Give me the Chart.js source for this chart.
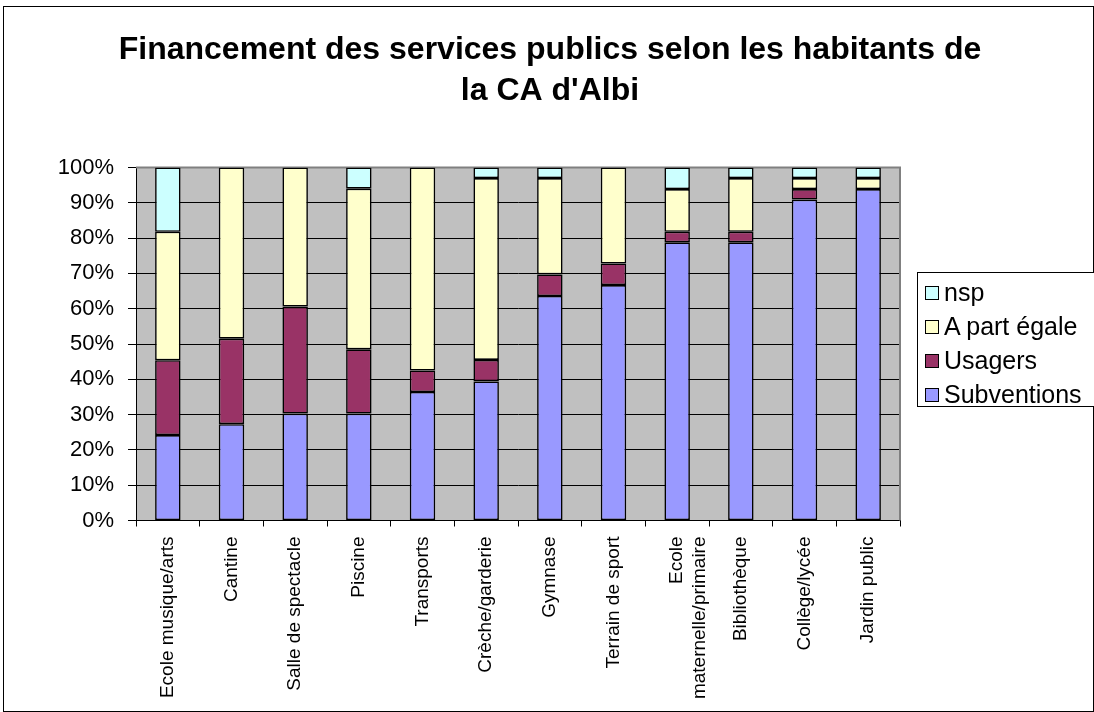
<!DOCTYPE html>
<html>
<head>
<meta charset="utf-8">
<script src="https://cdn.jsdelivr.net/npm/chart.js@4/dist/chart.umd.min.js"></script>
<style>
  body { margin: 0; background: #fff; overflow: hidden; }
  #wrap { position: relative; width: 1094px; height: 712px; overflow: hidden; }
  #legend {
    position: absolute; left: 917px; top: 272px; width: 200px; height: 135px;
    border: 1px solid #000; background: #fff; box-sizing: border-box;
    font-family: Arial, "Liberation Sans", sans-serif; font-size: 25px; color: #000;
  }
  #legend .item { position: absolute; left: 7px; height: 30px; line-height: 30px; white-space: nowrap; }
  #legend .sw { display: inline-block; width: 12px; height: 12px; border: 1px solid #000; margin-right: 5px; vertical-align: 1px; }
</style>
</head>
<body>
<div id="wrap">
  <canvas id="chart" width="1094" height="712"></canvas>
  <div id="legend"></div>
</div>
<script>
const titleLines = ['Financement des services publics selon les habitants de', "la CA d'Albi"];
const categories = ['Ecole musique/arts', 'Cantine', 'Salle de spectacle', 'Piscine', 'Transports',
  'Crèche/garderie', 'Gymnase', 'Terrain de sport', ['Ecole', 'maternelle/primaire'],
  'Bibliothèque', 'Collège/lycée', 'Jardin public'];
const subventions = [24.2, 27.3, 30.3, 30.3, 36.4, 39.4, 63.6, 66.7, 78.8, 78.8, 90.9, 93.9];
const usagers     = [21.2, 24.2, 30.3, 18.2, 6.1, 6.1, 6.1, 6.1, 3.0, 3.0, 3.0, 0];
const partEgale   = [36.4, 48.5, 39.4, 45.5, 57.5, 51.5, 27.3, 27.2, 12.1, 15.2, 3.1, 3.1];
const nsp         = [18.2, 0, 0, 6.0, 0, 3.0, 3.0, 0, 6.1, 3.0, 3.0, 3.0];
const yTicks = [0, 10, 20, 30, 40, 50, 60, 70, 80, 90, 100];

const FONT = 'Arial, "Liberation Sans", sans-serif';

function ds(label, data, color) {
  return {
    label, data, backgroundColor: color, borderColor: '#000',
    borderWidth: c => (c.raw ? 1.6 : 0), borderSkipped: false,
    barPercentage: 0.4, categoryPercentage: 1
  };
}

// grey plot background, grey frame on top/right, page title and outer frame
const plotFrame = {
  id: 'plotFrame',
  beforeDraw(chart) {
    const { ctx, chartArea: a } = chart;
    ctx.save();
    ctx.fillStyle = '#c0c0c0';
    ctx.fillRect(a.left, a.top, a.right - a.left, a.bottom - a.top);
    ctx.restore();
  },
  beforeDatasetsDraw(chart) {
    const { ctx, chartArea: a } = chart;
    ctx.save();
    ctx.strokeStyle = '#808080';
    ctx.lineWidth = 2;
    ctx.beginPath();
    ctx.moveTo(a.left, a.top);
    ctx.lineTo(a.right, a.top);
    ctx.lineTo(a.right, a.bottom);
    ctx.stroke();
    ctx.restore();
  },
  afterDraw(chart) {
    const { ctx } = chart;
    ctx.save();
    ctx.fillStyle = '#000';
    ctx.font = 'bold 32px ' + FONT;
    ctx.textAlign = 'center';
    ctx.textBaseline = 'alphabetic';
    ctx.fillText(titleLines[0], 550, 59);
    ctx.fillText(titleLines[1], 550, 100);
    ctx.strokeStyle = '#000';
    ctx.lineWidth = 1;
    ctx.strokeRect(3.5, 6.5, 1090, 705);
    ctx.restore();
  }
};

const chart = new Chart(document.getElementById('chart'), {
  type: 'bar',
  data: {
    labels: categories,
    datasets: [
      ds('Subventions', subventions, '#9999ff'),
      ds('Usagers', usagers, '#993366'),
      ds('A part égale', partEgale, '#ffffcc'),
      ds('nsp', nsp, '#ccffff')
    ]
  },
  options: {
    responsive: false,
    animation: false,
    layout: { padding: { left: 0, right: 194, top: 167.5, bottom: 0 } },
    plugins: {
      legend: { display: false },
      tooltip: { enabled: false },
      title: { display: false }
    },
    scales: {
      x: {
        stacked: true,
        grid: { display: true, drawOnChartArea: false, drawTicks: true, tickLength: 6, color: '#000' },
        border: { color: '#000', width: 1 },
        ticks: {
          color: '#000', font: { family: FONT, size: 19 },
          minRotation: 90, maxRotation: 90, autoSkip: false, padding: 10
        },
        afterFit(s) { s.height = 191.5; }
      },
      y: {
        stacked: true,
        min: 0, max: 100,
        afterBuildTicks(s) { s.ticks = yTicks.map(v => ({ value: v })); },
        grid: { color: '#000', lineWidth: 1, tickLength: 8 },
        border: { color: '#000', width: 1 },
        ticks: {
          color: '#000', font: { family: FONT, size: 22 }, padding: 14,
          callback: v => v + '%'
        },
        afterFit(s) { s.width = 136; }
      }
    }
  },
  plugins: [plotFrame]
});

// legend box, top series first
const legend = document.getElementById('legend');
const legendCenters = [20, 54, 88, 122];
chart.data.datasets.slice().reverse().forEach((d, i) => {
  const item = document.createElement('div');
  item.className = 'item';
  item.style.top = (legendCenters[i] - 16) + 'px';
  item.innerHTML = `<span class="sw" style="background:${d.backgroundColor}"></span>${d.label}`;
  legend.appendChild(item);
});
</script>
</body>
</html>
